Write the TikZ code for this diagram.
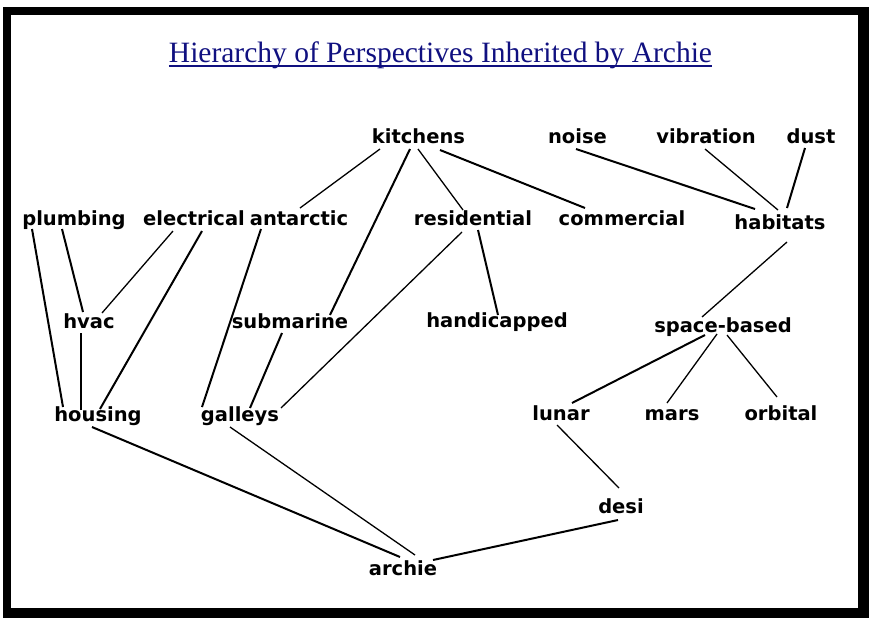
\documentclass[tikz,border=0pt]{standalone}
\usepackage{fontspec}
\setmainfont{Liberation Serif}
\newfontfamily\labelfont{DejaVu Sans}
\usetikzlibrary{calc}

\definecolor{titleblue}{RGB}{16,16,128}

\tikzset{
  lbl/.style={font=\labelfont\bfseries\fontsize{19.5}{20}\selectfont,
              inner sep=0pt, anchor=base},
  heavy/.style={line width=2pt},
  light/.style={line width=1.3pt},
}

\begin{document}
\begin{tikzpicture}[x=1pt,y=-1pt]
  \useasboundingbox (0,0) rectangle (870,619);

  % framed panel
  \fill[white] (0,0) rectangle (870,619);
  \fill[black] (3,7) rectangle (869,618);
  \fill[white] (11,15) rectangle (858,608);

  % title
  \node[font=\fontsize{29.5}{30}\selectfont, text=titleblue, inner sep=0pt,
        anchor=base] (title) at (440.5,62)
        {Hierarchy of Perspectives Inherited by Archie};
  \draw[titleblue, line width=1.4pt]
        ($(title.base west)+(0,4)$) -- ($(title.base east)+(0,4)$);

  % perspective nodes
  \node[lbl] (kitchens)    at (418.5,143) {kitchens};
  \node[lbl] (noise)       at (577.5,143) {noise};
  \node[lbl] (vibration)   at (706,143)   {vibration};
  \node[lbl] (dust)        at (811,143)   {dust};
  \node[lbl] (plumbing)    at (74,225)    {plumbing};
  \node[lbl] (electrical)  at (194,225)   {electrical};
  \node[lbl] (antarctic)   at (299,225)   {antarctic};
  \node[lbl] (residential) at (473,225)   {residential};
  \node[lbl] (commercial)  at (622,225)   {commercial};
  \node[lbl] (habitats)    at (780,229)   {habitats};
  \node[lbl] (hvac)        at (89,328)    {hvac};
  \node[lbl] (submarine)   at (290,328)   {submarine};
  \node[lbl] (handicapped) at (497,327)   {handicapped};
  \node[lbl] (spacebased)  at (723,332)   {space-based};
  \node[lbl] (housing)     at (98,421)    {housing};
  \node[lbl] (galleys)     at (240,421)   {galleys};
  \node[lbl] (lunar)       at (561,420)   {lunar};
  \node[lbl] (mars)        at (672,420)   {mars};
  \node[lbl] (orbital)     at (781,420)   {orbital};
  \node[lbl] (desi)        at (621,513)   {desi};
  \node[lbl] (archie)      at (403,575)   {archie};

  % inheritance links
  \draw[heavy] ($(plumbing.base)+(-42,4)$)    -- ($(housing.base)+(-35,-14)$);
  \draw[heavy] ($(plumbing.base)+(-12,4)$)    -- ($(hvac.base)+(-6,-16)$);
  \draw[light] ($(electrical.base)+(-21,6)$)  -- ($(hvac.base)+(13,-15)$);
  \draw[heavy] ($(electrical.base)+(8,6)$)    -- ($(housing.base)+(2,-12)$);
  \draw[heavy] ($(hvac.base)+(-8,5)$)         -- ($(housing.base)+(-17,-11)$);
  \draw[heavy] ($(antarctic.base)+(-38,4)$)   -- ($(galleys.base)+(-38,-14)$);
  \draw[light] ($(kitchens.base)+(-38.5,6)$)  -- ($(antarctic.base)+(1,-17)$);
  \draw[heavy] ($(kitchens.base)+(-8.5,6)$)   -- ($(submarine.base)+(40,-13)$);
  \draw[light] ($(kitchens.base)+(-0.5,6)$)   -- ($(residential.base)+(-10,-15)$);
  \draw[heavy] ($(kitchens.base)+(21.5,7)$)   -- ($(commercial.base)+(-37,-17)$);
  \draw[light] ($(residential.base)+(-11,7)$) -- ($(galleys.base)+(41,-13)$);
  \draw[heavy] ($(residential.base)+(5,5)$)   -- ($(handicapped.base)+(1,-12)$);
  \draw[heavy] ($(submarine.base)+(-8,5)$)    -- ($(galleys.base)+(10,-13)$);
  \draw[heavy] ($(noise.base)+(-1.5,6)$)      -- ($(habitats.base)+(-25,-20)$);
  \draw[light] ($(vibration.base)+(-1,6)$)    -- ($(habitats.base)+(-2,-19)$);
  \draw[heavy] ($(dust.base)+(-6,5)$)         -- ($(habitats.base)+(7,-21)$);
  \draw[light] ($(habitats.base)+(7,13)$)     -- ($(spacebased.base)+(-21,-15)$);
  \draw[heavy] ($(spacebased.base)+(-18,3)$)  -- ($(lunar.base)+(11,-17)$);
  \draw[light] ($(spacebased.base)+(-6,2)$)   -- ($(mars.base)+(-5,-17)$);
  \draw[light] ($(spacebased.base)+(4,3)$)    -- ($(orbital.base)+(-4,-23)$);
  \draw[light] ($(lunar.base)+(-4,5)$)        -- ($(desi.base)+(-2,-25)$);
  \draw[heavy] ($(desi.base)+(-3,7)$)         -- ($(archie.base)+(30,-15)$);
  \draw[heavy] ($(housing.base)+(-6,6)$)      -- ($(archie.base)+(-3,-18)$);
  \draw[light] ($(galleys.base)+(-10,6)$)     -- ($(archie.base)+(12,-20)$);
\end{tikzpicture}
\end{document}
